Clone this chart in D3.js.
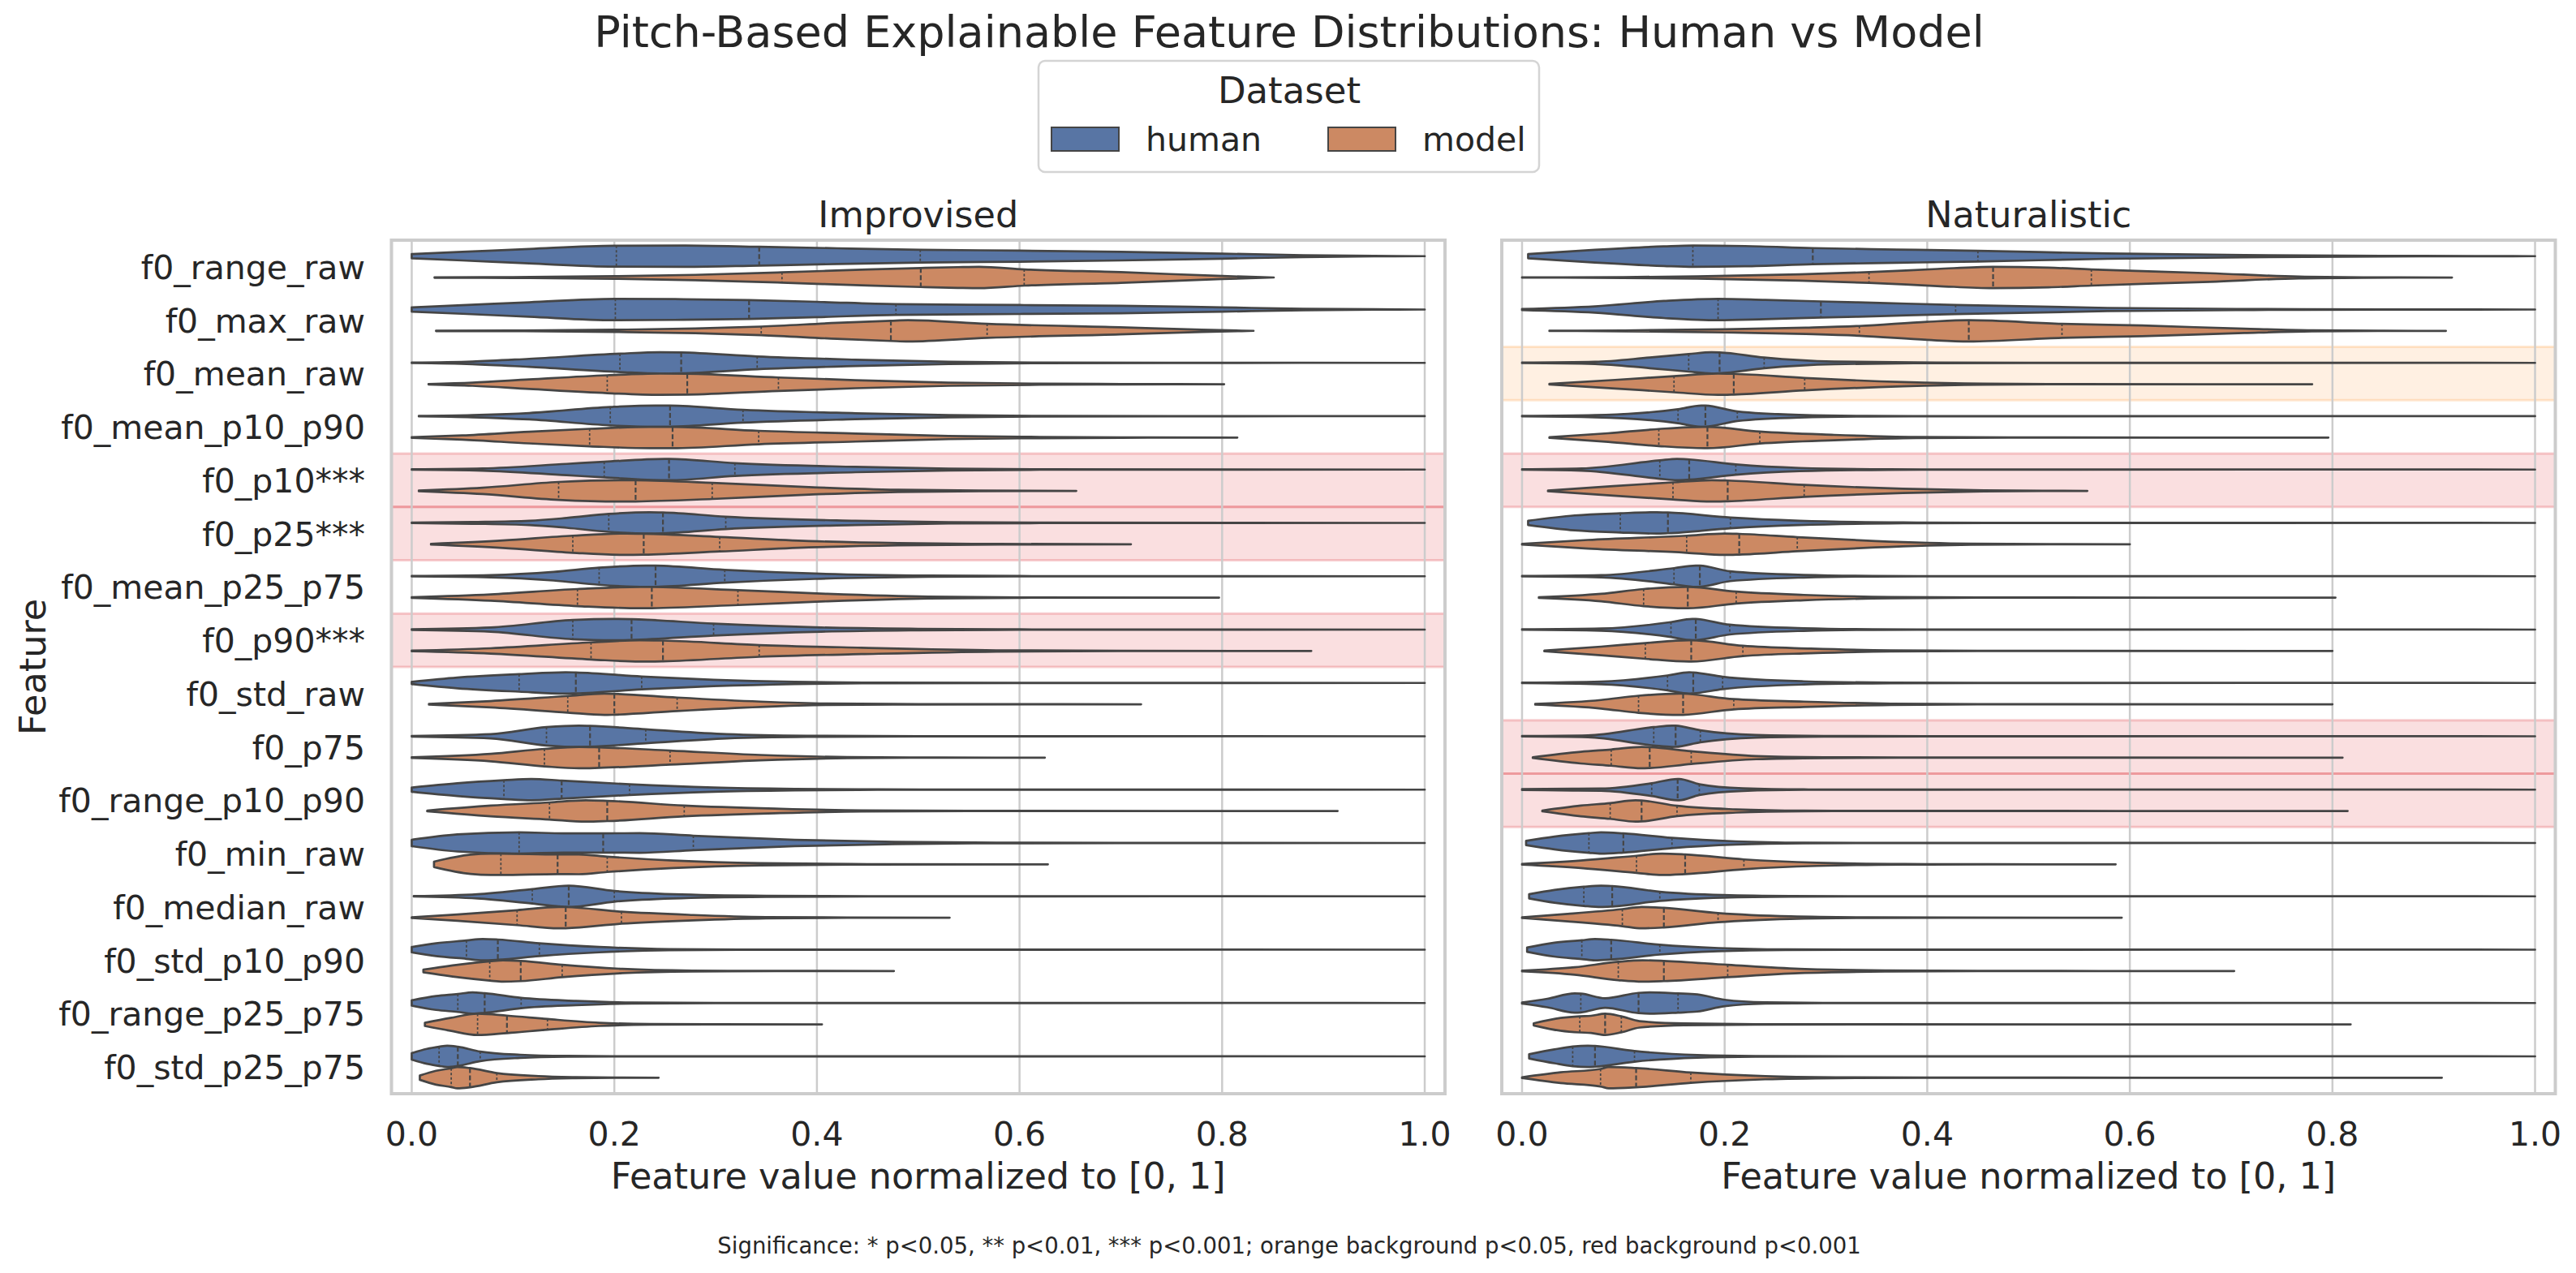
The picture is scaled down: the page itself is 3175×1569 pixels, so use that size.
<!DOCTYPE html>
<html>
<head>
<meta charset="utf-8">
<script src="https://cdn.jsdelivr.net/npm/d3@7"></script>
<style>
  body { margin: 0; background: #fff; }
  svg { display: block; }
  text { font-family: "DejaVu Sans", sans-serif; fill: #262626; }
</style>
</head>
<body>
<div id="chart"></div>
<script>
// ---- data ----
const features = ["f0_range_raw", "f0_max_raw", "f0_mean_raw", "f0_mean_p10_p90", "f0_p10", "f0_p25",
  "f0_mean_p25_p75", "f0_p90", "f0_std_raw", "f0_p75", "f0_range_p10_p90", "f0_min_raw",
  "f0_median_raw", "f0_std_p10_p90", "f0_range_p25_p75", "f0_std_p25_p75"];
const stars = ["", "", "", "", "***", "***", "", "***", "", "", "", "", "", "", "", ""];
const datasets = ["human", "model"];
const panelTitles = ["Improvised", "Naturalistic"];
const xTicks = [0, 0.2, 0.4, 0.6, 0.8, 1.0];

// background per feature: null / "orange" (p<0.05) / "red" (p<0.001)
const improvSig = [null, null, null, null, "red", "red", null, "red", null, null, null, null, null, null, null, null];
const naturSig = [null, null, "orange", null, "red", null, null, null, null, "red", "red", null, null, null, null, null];

// quartiles [q1, median, q3]
const improvHumanQ = [[0.202,0.343,0.502],[0.201,0.333,0.478],[0.2055,0.266,0.341],[0.196,0.255,0.327],
  [0.19,0.254,0.319],[0.1945,0.248,0.31],[0.185,0.2407,0.309],[0.159,0.217,0.298],[0.106,0.162,0.227],
  [0.133,0.176,0.231],[0.091,0.148,0.215],[0.106,0.189,0.278],[0.119,0.155,0.2],[0.054,0.085,0.126],
  [0.0455,0.072,0.108],[0.027,0.0455,0.0676]];
const improvModelQ = [[0.3655,0.5025,0.6046],[0.345,0.473,0.568],[0.193,0.272,0.362],[0.1756,0.2575,0.3425],
  [0.145,0.221,0.2966],[0.159,0.229,0.304],[0.1636,0.237,0.322],[0.177,0.248,0.343],[0.154,0.2,0.262],
  [0.131,0.185,0.255],[0.136,0.193,0.269],[0.088,0.144,0.193],[0.104,0.152,0.207],[0.077,0.1076,0.1485],
  [0.065,0.094,0.134],[0.039,0.0575,0.084]];
const naturHumanQ = [[0.1686,0.287,0.45],[0.1935,0.295,0.428],[0.1645,0.195,0.239],[0.154,0.181,0.2125],
  [0.136,0.165,0.211],[0.097,0.144,0.2057],[0.15,0.1755,0.2055],[0.147,0.1715,0.205],[0.1436,0.169,0.198],
  [0.13,0.1516,0.176],[0.128,0.1536,0.175],[0.066,0.1,0.148],[0.061,0.089,0.136],[0.059,0.088,0.136],
  [0.058,0.115,0.154],[0.05,0.072,0.111]];
const naturModelQ = [[0.3425,0.465,0.562],[0.333,0.441,0.533],[0.15,0.209,0.279],[0.135,0.183,0.2347],
  [0.149,0.203,0.2785],[0.1625,0.2144,0.2717],[0.12,0.1636,0.2114],[0.1217,0.167,0.218],[0.115,0.159,0.209],
  [0.088,0.126,0.167],[0.087,0.118,0.153],[0.113,0.161,0.219],[0.099,0.14,0.1935],[0.095,0.14,0.203],
  [0.057,0.082,0.098],[0.0775,0.1126,0.1666]];

// violin outlines: [value, relative half-width], from data min to data max
const improvHuman = [
  [[0,0.2],[0.05,0.4],[0.116,0.68],[0.2,0.98],[0.27,1.0],[0.343,0.88],[0.42,0.74],[0.502,0.6],[0.6,0.52],[0.7,0.4],[0.8,0.24],[0.88,0.08],[0.95,0.02],[1.0,0]],
  [[0,0.2],[0.05,0.4],[0.116,0.68],[0.2,1.0],[0.26,0.97],[0.333,0.88],[0.4,0.72],[0.478,0.5],[0.6,0.42],[0.7,0.35],[0.8,0.2],[0.88,0.07],[0.95,0.02],[1.0,0]],
  [[0,0.02],[0.06,0.12],[0.116,0.38],[0.2055,0.86],[0.245,1.0],[0.266,0.98],[0.341,0.6],[0.438,0.3],[0.53,0.1],[0.62,0.03],[0.75,0.01],[1.0,0]],
  [[0.007,0.02],[0.06,0.1],[0.116,0.3],[0.196,0.86],[0.24,1.0],[0.255,0.99],[0.327,0.6],[0.438,0.28],[0.53,0.1],[0.62,0.03],[0.75,0.01],[1.0,0]],
  [[0,0.02],[0.07,0.1],[0.153,0.53],[0.19,0.73],[0.25,1.0],[0.254,1.0],[0.319,0.6],[0.438,0.25],[0.53,0.08],[0.62,0.02],[1.0,0]],
  [[0,0.02],[0.06,0.08],[0.116,0.2],[0.153,0.46],[0.1945,0.84],[0.235,1.0],[0.248,0.98],[0.31,0.58],[0.438,0.2],[0.53,0.06],[0.62,0.02],[1.0,0]],
  [[0,0.02],[0.078,0.1],[0.14,0.4],[0.185,0.8],[0.231,1.0],[0.2407,0.99],[0.309,0.6],[0.398,0.25],[0.51,0.06],[0.6,0.02],[1.0,0]],
  [[0,0.03],[0.078,0.2],[0.159,0.9],[0.198,1.0],[0.217,0.97],[0.298,0.56],[0.404,0.2],[0.5,0.07],[0.6,0.02],[1.0,0]],
  [[0,0.1],[0.045,0.5],[0.106,0.82],[0.152,1.0],[0.162,0.98],[0.227,0.6],[0.298,0.3],[0.378,0.1],[0.46,0.03],[0.6,0.01],[1.0,0]],
  [[0,0.03],[0.078,0.2],[0.133,0.86],[0.165,1.0],[0.176,0.97],[0.231,0.66],[0.311,0.2],[0.39,0.05],[0.5,0.01],[1.0,0]],
  [[0,0.2],[0.045,0.6],[0.091,0.88],[0.118,1.0],[0.148,0.85],[0.215,0.5],[0.298,0.2],[0.378,0.07],[0.46,0.02],[1.0,0]],
  [[0,0.3],[0.045,0.8],[0.106,1.0],[0.15,0.9],[0.189,0.9],[0.225,0.92],[0.278,0.68],[0.378,0.3],[0.477,0.1],[0.577,0.03],[0.7,0.01],[1.0,0]],
  [[0.002,0.02],[0.065,0.2],[0.119,0.68],[0.155,1.0],[0.2,0.5],[0.258,0.2],[0.35,0.05],[0.45,0.01],[1.0,0]],
  [[0,0.25],[0.024,0.6],[0.054,0.86],[0.07,1.0],[0.085,0.95],[0.126,0.6],[0.185,0.25],[0.254,0.05],[0.35,0.01],[1.0,0]],
  [[0,0.25],[0.024,0.65],[0.0455,0.84],[0.06,1.0],[0.072,0.92],[0.108,0.48],[0.162,0.2],[0.217,0.05],[0.3,0.01],[1.0,0]],
  [[0,0.3],[0.015,0.7],[0.027,0.9],[0.035,1.0],[0.0455,0.9],[0.0676,0.45],[0.107,0.15],[0.153,0.04],[0.22,0.01],[1.0,0]]
];
const improvModel = [
  [[0.0225,0.02],[0.1,0.04],[0.2,0.12],[0.28,0.25],[0.3655,0.48],[0.45,0.75],[0.5025,0.89],[0.539,0.97],[0.56,1.0],[0.605,0.76],[0.7,0.5],[0.8,0.14],[0.851,0]],
  [[0.024,0.02],[0.1,0.03],[0.2,0.1],[0.28,0.22],[0.345,0.4],[0.42,0.75],[0.473,0.95],[0.49,1.0],[0.568,0.66],[0.699,0.33],[0.78,0.1],[0.831,0]],
  [[0.0166,0.02],[0.06,0.15],[0.116,0.45],[0.193,0.84],[0.245,1.0],[0.272,0.98],[0.362,0.63],[0.438,0.38],[0.53,0.15],[0.62,0.05],[0.7,0.02],[0.802,0]],
  [[0,0.03],[0.05,0.2],[0.116,0.55],[0.1756,0.82],[0.235,1.0],[0.2575,1.0],[0.3425,0.63],[0.438,0.38],[0.53,0.15],[0.62,0.06],[0.7,0.02],[0.815,0]],
  [[0.007,0.03],[0.07,0.3],[0.145,0.84],[0.208,1.0],[0.221,0.99],[0.2966,0.76],[0.392,0.35],[0.48,0.1],[0.56,0.03],[0.656,0]],
  [[0.019,0.03],[0.09,0.35],[0.159,0.8],[0.212,1.0],[0.229,0.98],[0.304,0.68],[0.392,0.3],[0.48,0.1],[0.58,0.03],[0.71,0]],
  [[0,0.03],[0.078,0.3],[0.1636,0.8],[0.225,1.0],[0.237,0.99],[0.322,0.7],[0.41,0.35],[0.51,0.08],[0.6,0.02],[0.797,0]],
  [[0,0.03],[0.078,0.25],[0.177,0.8],[0.225,1.0],[0.248,0.97],[0.343,0.55],[0.444,0.3],[0.577,0.06],[0.7,0.01],[0.888,0]],
  [[0.017,0.03],[0.078,0.3],[0.154,0.78],[0.19,1.0],[0.2,0.98],[0.262,0.63],[0.344,0.25],[0.41,0.07],[0.5,0.02],[0.72,0]],
  [[0,0.03],[0.078,0.35],[0.131,0.82],[0.165,1.0],[0.185,0.96],[0.255,0.66],[0.344,0.25],[0.43,0.05],[0.52,0.01],[0.625,0]],
  [[0.0153,0.03],[0.078,0.5],[0.136,0.8],[0.172,1.0],[0.193,0.95],[0.269,0.5],[0.364,0.2],[0.444,0.05],[0.55,0.01],[0.914,0]],
  [[0.022,0.25],[0.058,0.9],[0.078,1.0],[0.088,1.0],[0.144,0.92],[0.165,0.93],[0.193,0.72],[0.258,0.35],[0.344,0.1],[0.45,0.02],[0.628,0]],
  [[0,0.03],[0.045,0.3],[0.104,0.7],[0.145,1.0],[0.152,0.99],[0.207,0.56],[0.278,0.25],[0.35,0.06],[0.43,0.01],[0.531,0]],
  [[0.0115,0.12],[0.047,0.6],[0.077,0.9],[0.09,1.0],[0.1076,0.95],[0.1485,0.58],[0.208,0.2],[0.277,0.04],[0.36,0.01],[0.476,0]],
  [[0.013,0.15],[0.038,0.6],[0.065,1.0],[0.094,0.82],[0.134,0.5],[0.185,0.15],[0.235,0.03],[0.3,0.01],[0.405,0]],
  [[0.008,0.2],[0.024,0.65],[0.039,0.88],[0.045,1.0],[0.0575,0.9],[0.084,0.43],[0.125,0.15],[0.162,0.05],[0.2,0.01],[0.2437,0]]
];
const naturHuman = [
  [[0.006,0.2],[0.072,0.6],[0.14,0.92],[0.169,1.0],[0.22,0.95],[0.287,0.76],[0.37,0.62],[0.45,0.5],[0.578,0.25],[0.713,0.1],[0.848,0.03],[0.95,0.01],[1.0,0]],
  [[0,0.05],[0.072,0.3],[0.14,0.8],[0.1935,1.0],[0.24,0.9],[0.295,0.76],[0.36,0.6],[0.428,0.43],[0.578,0.15],[0.713,0.05],[0.85,0.015],[1.0,0]],
  [[0,0.02],[0.072,0.1],[0.126,0.5],[0.1645,0.82],[0.187,1.0],[0.195,0.98],[0.239,0.5],[0.308,0.12],[0.409,0.03],[0.5,0.01],[1.0,0]],
  [[0,0.02],[0.072,0.1],[0.154,0.66],[0.177,1.0],[0.181,0.99],[0.2125,0.45],[0.274,0.12],[0.34,0.03],[0.45,0.01],[1.0,0]],
  [[0,0.02],[0.059,0.1],[0.136,0.86],[0.153,1.0],[0.165,0.95],[0.211,0.48],[0.274,0.15],[0.362,0.03],[0.45,0.01],[1.0,0]],
  [[0.006,0.2],[0.052,0.7],[0.097,0.9],[0.133,1.0],[0.144,0.97],[0.2057,0.5],[0.274,0.2],[0.376,0.04],[0.46,0.01],[1.0,0]],
  [[0,0.02],[0.078,0.1],[0.15,0.76],[0.1715,1.0],[0.1755,0.99],[0.2055,0.46],[0.278,0.12],[0.346,0.03],[0.45,0.01],[1.0,0]],
  [[0,0.02],[0.078,0.1],[0.147,0.7],[0.168,1.0],[0.1715,0.99],[0.205,0.46],[0.278,0.12],[0.346,0.03],[0.45,0.01],[1.0,0]],
  [[0,0.02],[0.078,0.12],[0.1436,0.7],[0.165,1.0],[0.169,0.98],[0.198,0.58],[0.278,0.15],[0.364,0.03],[0.45,0.01],[1.0,0]],
  [[0,0.02],[0.065,0.08],[0.13,0.86],[0.148,1.0],[0.1516,0.99],[0.176,0.56],[0.231,0.12],[0.298,0.03],[0.4,0.01],[1.0,0]],
  [[0,0.04],[0.05,0.08],[0.078,0.1],[0.128,0.6],[0.1536,1.0],[0.155,1.0],[0.175,0.5],[0.218,0.12],[0.278,0.02],[0.4,0.005],[1.0,0]],
  [[0.004,0.2],[0.032,0.6],[0.066,0.92],[0.078,1.0],[0.1,0.9],[0.148,0.48],[0.211,0.15],[0.278,0.03],[0.38,0.01],[1.0,0]],
  [[0.007,0.2],[0.032,0.6],[0.061,0.9],[0.078,1.0],[0.089,0.96],[0.136,0.43],[0.198,0.12],[0.265,0.03],[0.36,0.01],[1.0,0]],
  [[0.005,0.2],[0.032,0.65],[0.059,0.88],[0.072,1.0],[0.088,0.93],[0.136,0.46],[0.194,0.15],[0.26,0.03],[0.36,0.01],[1.0,0]],
  [[0,0.05],[0.025,0.4],[0.052,0.9],[0.058,0.88],[0.082,0.45],[0.115,0.95],[0.126,1.0],[0.154,0.9],[0.173,0.8],[0.2,0.3],[0.24,0.06],[0.3,0.01],[1.0,0]],
  [[0.007,0.2],[0.032,0.65],[0.05,0.92],[0.065,1.0],[0.072,0.97],[0.111,0.5],[0.173,0.12],[0.23,0.03],[0.32,0.01],[1.0,0]]
];
const naturModel = [
  [[0,0.01],[0.1,0.04],[0.173,0.1],[0.274,0.3],[0.3425,0.5],[0.41,0.8],[0.465,1.0],[0.52,0.92],[0.562,0.76],[0.679,0.4],[0.767,0.08],[0.83,0.02],[0.918,0]],
  [[0.027,0.01],[0.1,0.04],[0.2,0.15],[0.28,0.3],[0.333,0.46],[0.4,0.85],[0.441,1.0],[0.533,0.66],[0.612,0.5],[0.713,0.2],[0.78,0.05],[0.85,0.01],[0.912,0]],
  [[0.027,0.03],[0.092,0.4],[0.15,0.76],[0.1935,1.0],[0.209,0.97],[0.279,0.58],[0.376,0.2],[0.456,0.05],[0.55,0.01],[0.78,0]],
  [[0.027,0.03],[0.085,0.4],[0.135,0.8],[0.18,1.0],[0.183,1.0],[0.2347,0.56],[0.308,0.25],[0.389,0.05],[0.48,0.01],[0.796,0]],
  [[0.0256,0.03],[0.09,0.45],[0.149,0.8],[0.187,1.0],[0.203,0.97],[0.2785,0.56],[0.376,0.2],[0.456,0.05],[0.52,0.01],[0.558,0]],
  [[0,0.03],[0.065,0.4],[0.1625,0.8],[0.2,1.0],[0.2144,0.97],[0.2717,0.66],[0.349,0.3],[0.443,0.05],[0.52,0.01],[0.6,0]],
  [[0.0166,0.03],[0.078,0.35],[0.12,0.8],[0.1615,1.0],[0.1636,1.0],[0.2114,0.56],[0.278,0.25],[0.364,0.06],[0.45,0.01],[0.803,0]],
  [[0.022,0.03],[0.078,0.4],[0.1217,0.74],[0.165,1.0],[0.167,1.0],[0.218,0.48],[0.285,0.22],[0.364,0.05],[0.45,0.01],[0.8,0]],
  [[0.013,0.03],[0.078,0.4],[0.115,0.8],[0.155,1.0],[0.159,0.99],[0.209,0.48],[0.278,0.25],[0.364,0.06],[0.45,0.01],[0.8,0]],
  [[0.0106,0.03],[0.058,0.55],[0.088,0.76],[0.118,1.0],[0.126,0.98],[0.167,0.6],[0.231,0.15],[0.298,0.04],[0.38,0.01],[0.81,0]],
  [[0.02,0.03],[0.058,0.5],[0.087,0.74],[0.112,1.0],[0.118,0.98],[0.153,0.48],[0.211,0.15],[0.278,0.03],[0.36,0.01],[0.815,0]],
  [[0,0.03],[0.058,0.35],[0.113,0.8],[0.138,1.0],[0.161,0.92],[0.219,0.46],[0.291,0.15],[0.378,0.03],[0.46,0.01],[0.586,0]],
  [[0,0.03],[0.045,0.35],[0.099,0.8],[0.118,1.0],[0.14,0.92],[0.1935,0.43],[0.265,0.12],[0.34,0.03],[0.42,0.01],[0.592,0]],
  [[0,0.03],[0.052,0.35],[0.095,0.86],[0.119,1.0],[0.14,0.95],[0.203,0.58],[0.274,0.2],[0.362,0.05],[0.45,0.01],[0.703,0]],
  [[0.0115,0.1],[0.038,0.6],[0.057,0.76],[0.068,0.8],[0.082,1.0],[0.098,0.75],[0.116,0.3],[0.16,0.08],[0.23,0.02],[0.35,0.005],[0.818,0]],
  [[0,0.03],[0.038,0.5],[0.0775,0.82],[0.0856,1.0],[0.1126,0.9],[0.1666,0.48],[0.24,0.15],[0.31,0.04],[0.4,0.01],[0.908,0]]
];

// ---- layout ----
const W = 3175, H = 1569;
const axTop = 296, axBottom = 1348, axW = 1298.5;
const axLeft = [482.5, 1851];
const colors = {human: "#5875a4", model: "#cc8963"};
const edge = "#454545";
const bandFill = {red: "rgba(226,80,85,0.18)", orange: "rgba(253,140,30,0.13)"};
const bandEdge = {red: "rgba(226,80,85,0.28)", orange: "rgba(253,140,30,0.2)"};

const panels = [
  {title: panelTitles[0], sig: improvSig, shapes: [improvHuman, improvModel], quarts: [improvHumanQ, improvModelQ]},
  {title: panelTitles[1], sig: naturSig, shapes: [naturHuman, naturModel], quarts: [naturHumanQ, naturModelQ]}
];

const svg = d3.select("#chart").append("svg")
    .attr("width", W)
    .attr("height", H);

svg.append("rect").attr("width", W).attr("height", H).attr("fill", "#fff");

panels.forEach((p, pi) => {
    let g = svg.append("g");
    let x = d3.scaleLinear().domain([-0.02, 1.02]).range([axLeft[pi], axLeft[pi] + axW]);
    let y = d3.scaleBand().domain(features).range([axTop, axBottom]).paddingInner(0.2).paddingOuter(0.1);
    let hue = d3.scaleBand().domain(datasets).range([0, y.bandwidth()]);
    let hw = hue.bandwidth() / 2;
    let center = f => y(f) + y.bandwidth() / 2;

    // significance backgrounds
    p.sig.forEach((s, i) => {
        if (!s) return;
        g.append("rect")
            .attr("x", x.range()[0])
            .attr("y", center(features[i]) - y.step() / 2)
            .attr("width", axW)
            .attr("height", y.step())
            .attr("fill", bandFill[s])
            .attr("stroke", bandEdge[s])
            .attr("stroke-width", 3);
    });

    // vertical grid
    g.selectAll(".grid")
        .data(xTicks)
        .enter().append("line")
        .attr("x1", d => x(d)).attr("x2", d => x(d))
        .attr("y1", axTop).attr("y2", axBottom)
        .attr("stroke", "#cccccc")
        .attr("stroke-width", 2.5);

    // violins
    datasets.forEach((ds, di) => {
        p.shapes[di].forEach((knots, i) => {
            let yc = y(features[i]) + hue(ds) + hw;
            let area = d3.area()
                .x(d => x(d[0]))
                .y0(d => yc - d[1] * hw)
                .y1(d => yc + d[1] * hw)
                .curve(d3.curveMonotoneX);
            g.append("path")
                .attr("d", area(knots))
                .attr("fill", colors[ds])
                .attr("stroke", edge)
                .attr("stroke-width", 2.7)
                .attr("stroke-linejoin", "round");

            // quartile lines
            let widthAt = d3.scaleLinear().domain(knots.map(k => k[0])).range(knots.map(k => k[1]));
            p.quarts[di][i].forEach((q, qi) => {
                let r = widthAt(q) * hw;
                g.append("line")
                    .attr("x1", x(q)).attr("x2", x(q))
                    .attr("y1", yc - r).attr("y2", yc + r)
                    .attr("stroke", edge)
                    .attr("stroke-width", qi === 1 ? 2.2 : 1.7)
                    .attr("stroke-dasharray", qi === 1 ? "6,3" : "3,2.5");
            });
        });
    });

    // frame
    g.append("rect")
        .attr("x", x.range()[0]).attr("y", axTop)
        .attr("width", axW).attr("height", axBottom - axTop)
        .attr("fill", "none")
        .attr("stroke", "#cccccc")
        .attr("stroke-width", 4);

    // x tick labels
    g.selectAll(".xt")
        .data(xTicks)
        .enter().append("text")
        .attr("x", d => x(d))
        .attr("y", 1412)
        .attr("text-anchor", "middle")
        .style("font-size", "41px")
        .text(d => d3.format(".1f")(d));

    g.append("text")
        .attr("x", x.range()[0] + axW / 2)
        .attr("y", 1465)
        .attr("text-anchor", "middle")
        .style("font-size", "44.5px")
        .text("Feature value normalized to [0, 1]");

    g.append("text")
        .attr("x", x.range()[0] + axW / 2)
        .attr("y", 280)
        .attr("text-anchor", "middle")
        .style("font-size", "44.5px")
        .text(p.title);

    // y tick labels only on the left panel
    if (pi === 0) {
        g.selectAll(".yt")
            .data(features)
            .enter().append("text")
            .attr("x", 450)
            .attr("y", d => center(d) + 15)
            .attr("text-anchor", "end")
            .style("font-size", "41px")
            .text((d, i) => d + stars[i]);
    }
});

// y axis label
svg.append("text")
    .attr("transform", `translate(56, ${(axTop + axBottom) / 2}) rotate(-90)`)
    .attr("text-anchor", "middle")
    .style("font-size", "44.5px")
    .text("Feature");

// title
svg.append("text")
    .attr("x", 1589).attr("y", 58)
    .attr("text-anchor", "middle")
    .style("font-size", "54px")
    .text("Pitch-Based Explainable Feature Distributions: Human vs Model");

// legend
let leg = svg.append("g");
leg.append("rect")
    .attr("x", 1280).attr("y", 75)
    .attr("width", 617).attr("height", 137)
    .attr("rx", 8)
    .attr("fill", "#fff")
    .attr("stroke", "#d4d4d4")
    .attr("stroke-width", 2.5);
leg.append("text")
    .attr("x", 1589).attr("y", 127)
    .attr("text-anchor", "middle")
    .style("font-size", "45px")
    .text("Dataset");
const legX = [1296, 1637];
datasets.forEach((ds, i) => {
    leg.append("rect")
        .attr("x", legX[i]).attr("y", 157)
        .attr("width", 83).attr("height", 29)
        .attr("fill", colors[ds])
        .attr("stroke", edge)
        .attr("stroke-width", 2);
    leg.append("text")
        .attr("x", legX[i] + 116).attr("y", 186)
        .style("font-size", "41px")
        .text(ds);
});

// footer note
svg.append("text")
    .attr("x", 1589).attr("y", 1545)
    .attr("text-anchor", "middle")
    .style("font-size", "27.5px")
    .text("Significance: * p<0.05, ** p<0.01, *** p<0.001; orange background p<0.05, red background p<0.001");
</script>
</body>
</html>
